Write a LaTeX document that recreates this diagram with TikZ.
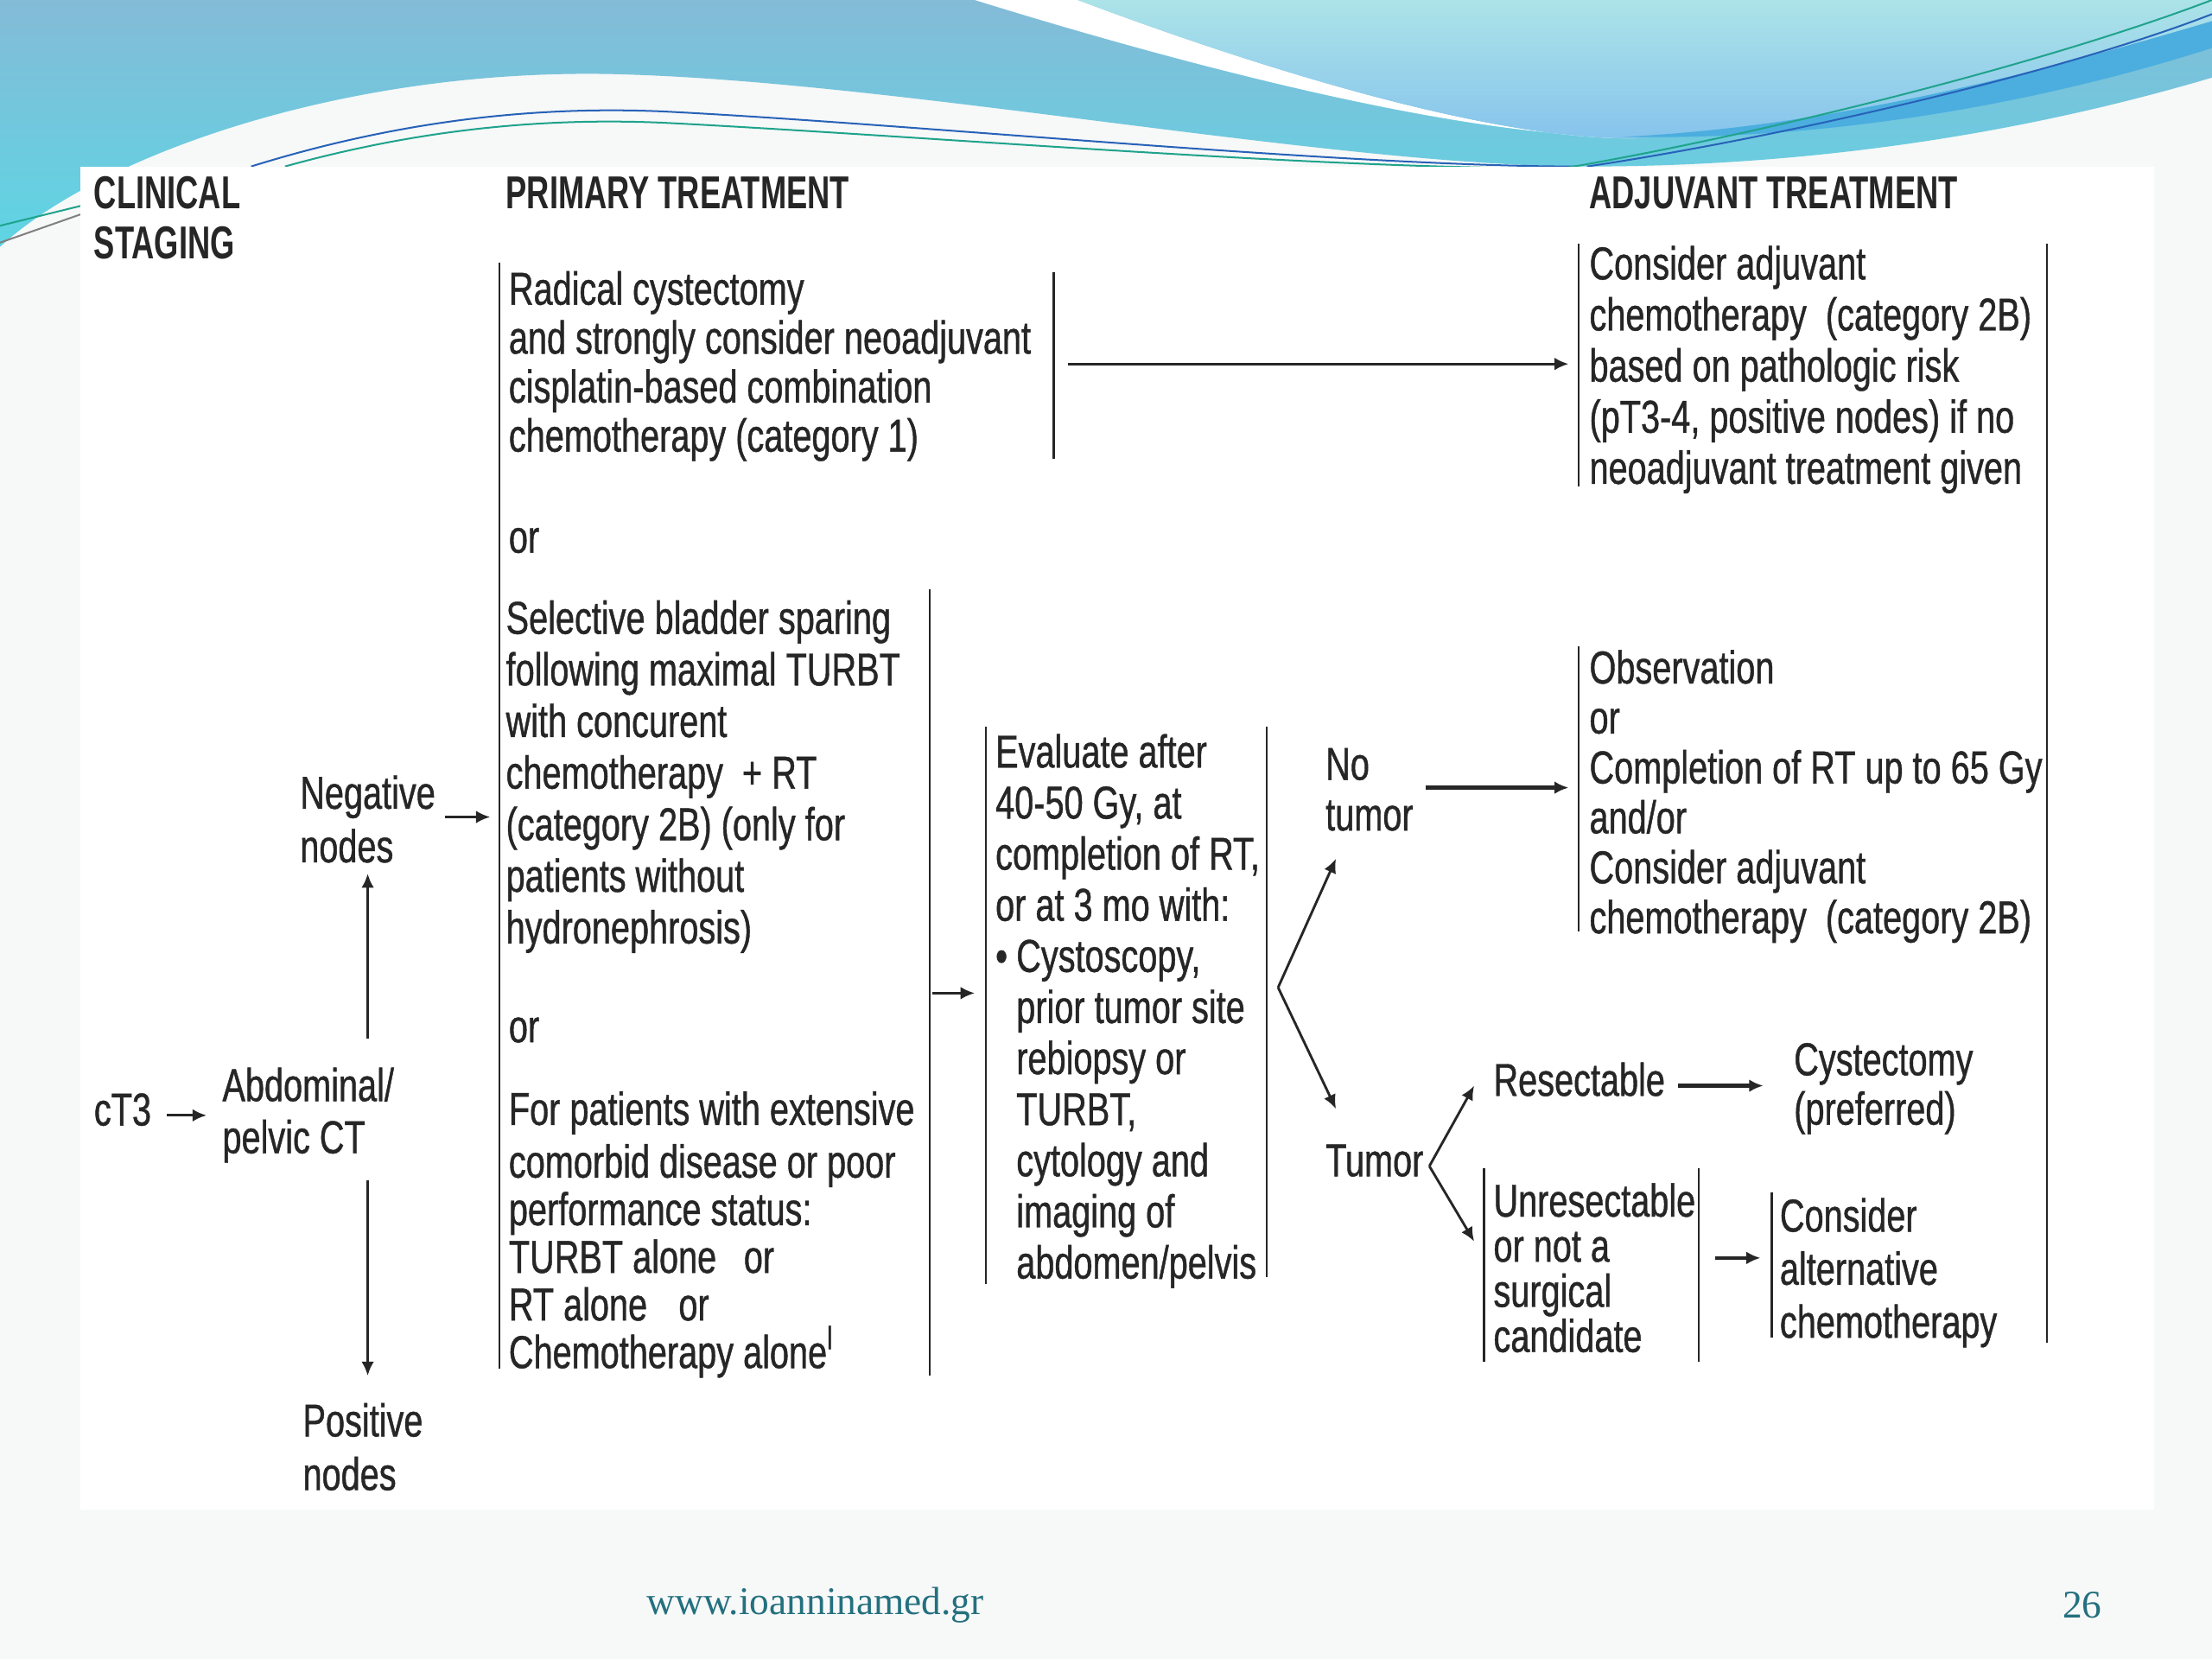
\documentclass[tikz,border=0pt]{standalone}
\usepackage{fontspec}
\setmainfont{Liberation Sans}[FakeStretch=0.743, FakeBold=0.8]
\newfontfamily\hdrfont{Liberation Sans}[FakeStretch=0.68]
\newfontfamily\footfont{Liberation Serif}
\usetikzlibrary{arrows.meta}

\definecolor{pagegray}{HTML}{F7F8F8}
\definecolor{wavetop}{HTML}{84BBD7}
\definecolor{wavebot}{HTML}{5ED5E4}
\definecolor{lighttop}{HTML}{ACE3E8}
\definecolor{lightbot}{HTML}{86C3EC}
\definecolor{bandblue}{HTML}{4BAEDF}
\definecolor{linkteal}{HTML}{1FA38C}
\definecolor{linkblue}{HTML}{2762B8}
\definecolor{footteal}{HTML}{23707F}
\definecolor{ink}{HTML}{262626}

\tikzset{
  txt/.style={anchor=north west, inner sep=0pt, align=left, text=ink,
    font=\fontsize{9.3}{#1}\selectfont},
  txt/.default=10.2pt,
  hdr/.style={anchor=north west, inner sep=0pt, align=left, text=ink,
    font=\hdrfont\bfseries\fontsize{9.3}{9.96}\selectfont},
  bar/.style={line width=0.4pt, draw=ink},
  arr/.style={line width=0.5pt, draw=ink, -{Latex[length=1mm, width=0.9mm]}},
  fatarr/.style={arr, line width=0.8pt},
  foot/.style={inner sep=0pt, text=footteal, font=\footfont\fontsize{7.9}{9}\selectfont},
}

\begin{document}
\begin{tikzpicture}[x=0.01cm, y=-0.01cm]
\useasboundingbox (0,0) rectangle (1568,1176);

% slide background and top waves
\fill[pagegray] (0,0) rectangle (1568,1176);
\shade[top color=wavetop, bottom color=wavebot]
  (0,0) -- (1568,0) -- (1568,55)
  .. controls (1450,90) and (1300,118) .. (1125,118)
  .. controls (950,118) and (650,60) .. (450,53)
  .. controls (250,45) and (70,110) .. (0,175) -- cycle;
\fill[white] (691,0) .. controls (820,40) and (1020,95) .. (1148,97)
  -- (1160,98) .. controls (1050,100) and (870,40) .. (764,0) -- cycle;
\shade[top color=lighttop, bottom color=lightbot]
  (764,0) .. controls (870,40) and (1050,100) .. (1160,98)
  .. controls (1300,90) and (1450,50) .. (1568,15) -- (1568,0) -- cycle;
\fill[bandblue] (1150,97) .. controls (1300,90) and (1450,50) .. (1568,15)
  -- (1568,34) .. controls (1450,72) and (1300,100) .. (1150,97) -- cycle;
\draw[linkblue, line width=0.35pt] (178,118) .. controls (300,80) and (400,76) .. (470,79)
  .. controls (650,88) and (950,118) .. (1118,118);
\draw[linkteal, line width=0.35pt] (202,118) .. controls (310,88) and (400,84) .. (470,87)
  .. controls (650,96) and (950,121) .. (1110,119);
\draw[linkteal, line width=0.35pt] (1110,119) .. controls (1250,95) and (1450,45) .. (1568,0);
\draw[linkblue, line width=0.35pt] (1125,118) .. controls (1260,98) and (1460,52) .. (1568,10);
\draw[linkteal, line width=0.35pt] (0,160) -- (57,146);
\draw[gray, line width=0.35pt] (0,172) -- (57,152);
\fill[white] (57,118) rectangle (1527,1070);

% column heads
\node[hdr] (clin) at (66,123) {\strut CLINICAL\\STAGING};
\node[hdr] (prim) at (358,123) {\strut PRIMARY TREATMENT};
\node[hdr] (adjhd) at (1126,123) {\strut ADJUVANT TREATMENT};

% clinical staging
\node[txt] (ct3) at (66,772) {\strut cT3};
\node[txt=10.5pt] (abd) at (157,754) {\strut Abdominal/\\pelvic CT};
\node[txt=10.8pt] (neg) at (212,546) {\strut Negative\\nodes};
\node[txt=10.8pt] (pos) at (214,991) {\strut Positive\\nodes};

% primary treatment
\node[txt=9.87pt] (radical) at (360,191) {\strut Radical cystectomy\\and strongly consider neoadjuvant\\cisplatin-based combination\\chemotherapy (category 1)};
\node[txt] (or1) at (360,366) {\strut or};
\node[txt=10.4pt] (sel) at (358,423) {\strut Selective bladder sparing\\following maximal TURBT\\with concurent\\chemotherapy~ + RT\\(category 2B) (only for\\patients without\\hydronephrosis)};
\node[txt] (or2) at (360,713) {\strut or};
\node[txt=9.6pt] (frail) at (360,773) {\strut For patients with extensive\\comorbid disease or poor\\performance status:\\TURBT alone\hspace{3.6pt} or\\RT alone\hspace{4.4pt} or\\Chemotherapy alone\textsuperscript{l}};
\node[txt=10.3pt] (eval) at (705,518) {\strut Evaluate after\\40-50 Gy, at\\completion of RT,\\or at 3 mo with:\\\makebox[4.2pt][l]{\textbullet}Cystoscopy,\\\hspace*{4.2pt}prior tumor site\\\hspace*{4.2pt}rebiopsy or\\\hspace*{4.2pt}TURBT,\\\hspace*{4.2pt}cytology and\\\hspace*{4.2pt}imaging of\\\hspace*{4.2pt}abdomen/pelvis};
\node[txt] (notum) at (939,527) {\strut No\\tumor};
\node[txt] (tum) at (939,808) {\strut Tumor};
\node[txt] (resect) at (1058,751) {\strut Resectable};
\node[txt=9.1pt] (unres) at (1058,838) {\strut Unresectable\\or not a\\surgical\\candidate};

% adjuvant treatment
\node[txt=10.3pt] (adjtop) at (1126,172) {\strut Consider adjuvant\\chemotherapy~ (category 2B)\\based on pathologic risk\\(pT3-4, positive nodes) if no\\neoadjuvant treatment given};
\node[txt=10.07pt] (obs) at (1126,459) {\strut Observation\\or\\Completion of RT up to 65 Gy\\and/or\\Consider adjuvant\\chemotherapy~ (category 2B)};
\node[txt=9.96pt] (cyst) at (1271,737) {\strut Cystectomy\\(preferred)};
\node[txt=10.7pt] (alt) at (1261,846) {\strut Consider\\alternative\\chemotherapy};

% brackets
\draw[bar] (354,186) -- (354,970);
\draw[bar] (747,193) -- (747,325);
\draw[bar] (659,418) -- (659,975);
\draw[bar] (699,515) -- (699,910);
\draw[bar] (898,515) -- (898,905);
\draw[bar] (1119,173) -- (1119,345);
\draw[bar] (1119,458) -- (1119,660);
\draw[bar] (1451,173) -- (1451,952);
\draw[bar] (1052,828) -- (1052,965);
\draw[bar] (1204,828) -- (1204,965);
\draw[bar] (1256,845) -- (1256,948);

% connectors
\coordinate (radout) at (757,258);
\coordinate (selout) at (661,704);
\coordinate (evalout) at (906,700);
\coordinate (unresout) at ([shift={(13,-7)}]unres.east);
\draw[arr] ([xshift=3pt]ct3.east) -- ([xshift=-3pt]ct3.east -| abd.west);
\draw[arr] ([yshift=5pt]neg.south |- abd.north) -- ([yshift=-2pt]neg.south);
\draw[arr] ([yshift=-3.3pt]neg.south |- abd.south) -- ([yshift=4.5pt]neg.south |- pos.north);
\draw[arr, shorten >=3pt] ([xshift=1.7pt]neg.east) -- (neg.east -| sel.west);
\draw[arr, shorten >=4pt] (radout) -- (radout -| adjtop.west);
\draw[arr, shorten >=4pt] (selout) -- (selout -| eval.west);
\draw[arr] (evalout) -- ([shift={(8,19)}]notum.south west);
\draw[arr] (evalout) -- ([shift={(8,-22)}]tum.north west);
\draw[fatarr, shorten >=4pt] ([xshift=2.3pt]notum.east) -- (notum.east -| obs.west);
\draw[arr] ([xshift=1pt]tum.east) -- ([xshift=-3.7pt]resect.west);
\draw[arr] ([xshift=1pt]tum.east) -- ([shift={(-13,42)}]unres.north west);
\draw[fatarr, shorten >=6pt] ([xshift=2.5pt]resect.east) -- (resect.east -| cyst.west);
\draw[fatarr, shorten >=3.7pt] (unresout) -- (unresout -| alt.west);

% footer
\node[foot] (url) at (578,1138) {www.ioanninamed.gr};
\node[foot] (pg) at (1476,1138) {26};
\end{tikzpicture}
\end{document}
